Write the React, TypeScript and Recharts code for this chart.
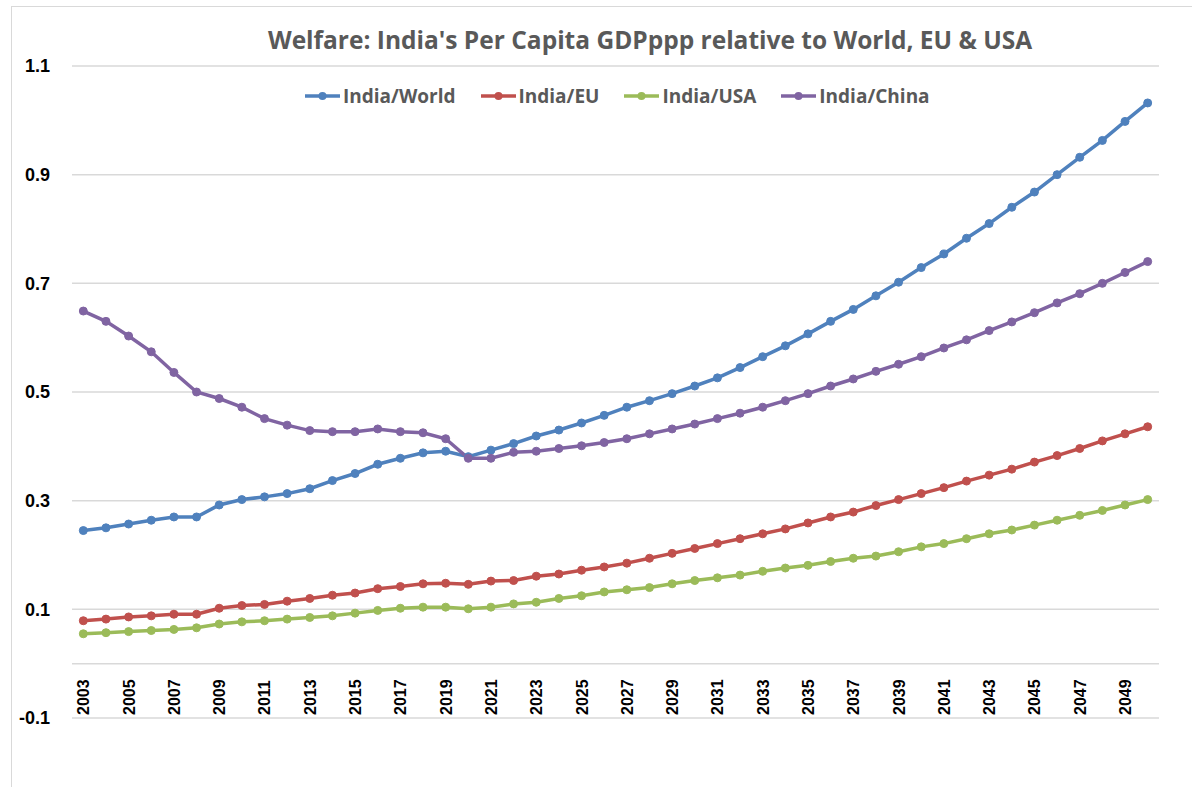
import React from "react";
import {
  LineChart,
  Line,
  XAxis,
  YAxis,
  CartesianGrid,
  ReferenceLine,
} from "recharts";

const years = [
  2003, 2004, 2005, 2006, 2007, 2008, 2009, 2010, 2011, 2012, 2013, 2014,
  2015, 2016, 2017, 2018, 2019, 2020, 2021, 2022, 2023, 2024, 2025, 2026,
  2027, 2028, 2029, 2030, 2031, 2032, 2033, 2034, 2035, 2036, 2037, 2038,
  2039, 2040, 2041, 2042, 2043, 2044, 2045, 2046, 2047, 2048, 2049, 2050,
];

const indiaWorld = [
  0.245, 0.25, 0.257, 0.264, 0.27, 0.27, 0.292, 0.302, 0.307, 0.313, 0.322,
  0.337, 0.35, 0.367, 0.378, 0.388, 0.391, 0.381, 0.393, 0.405, 0.419, 0.43,
  0.443, 0.457, 0.472, 0.484, 0.497, 0.511, 0.526, 0.545, 0.565, 0.585, 0.607,
  0.63, 0.652, 0.677, 0.702, 0.729, 0.754, 0.783, 0.81, 0.84, 0.868, 0.9,
  0.932, 0.963, 0.998, 1.032,
];

const indiaEU = [
  0.079, 0.082, 0.086, 0.088, 0.091, 0.091, 0.102, 0.107, 0.109, 0.115, 0.12,
  0.126, 0.13, 0.138, 0.142, 0.147, 0.148, 0.146, 0.152, 0.153, 0.161, 0.165,
  0.172, 0.178, 0.185, 0.194, 0.203, 0.212, 0.221, 0.23, 0.239, 0.248, 0.259,
  0.27, 0.279, 0.291, 0.302, 0.313, 0.324, 0.336, 0.347, 0.358, 0.371, 0.383,
  0.396, 0.41, 0.423, 0.436,
];

const indiaUSA = [
  0.055, 0.057, 0.059, 0.061, 0.063, 0.066, 0.073, 0.077, 0.079, 0.082, 0.085,
  0.088, 0.093, 0.098, 0.102, 0.104, 0.104, 0.101, 0.104, 0.11, 0.113, 0.12,
  0.125, 0.132, 0.136, 0.14, 0.147, 0.153, 0.158, 0.163, 0.17, 0.176, 0.181,
  0.188, 0.194, 0.198, 0.206, 0.215, 0.221, 0.23, 0.239, 0.246, 0.255, 0.264,
  0.273, 0.282, 0.292, 0.302,
];

const indiaChina = [
  0.649, 0.63, 0.603, 0.574, 0.536, 0.5, 0.488, 0.472, 0.451, 0.439, 0.429,
  0.427, 0.427, 0.432, 0.427, 0.425, 0.414, 0.378, 0.378, 0.389, 0.391, 0.396,
  0.401, 0.407, 0.414, 0.423, 0.432, 0.441, 0.451, 0.461, 0.472, 0.484, 0.497,
  0.511, 0.524, 0.538, 0.551, 0.565, 0.581, 0.596, 0.613, 0.629, 0.646, 0.664,
  0.681, 0.7, 0.72, 0.74,
];

const yTicks = [-0.1, 0.1, 0.3, 0.5, 0.7, 0.9, 1.1];

const series = [
  { key: "world", name: "India/World", color: "#4F81BD", values: indiaWorld },
  { key: "eu", name: "India/EU", color: "#C0504D", values: indiaEU },
  { key: "usa", name: "India/USA", color: "#9BBB59", values: indiaUSA },
  { key: "china", name: "India/China", color: "#8064A2", values: indiaChina },
];

const data = years.map((year, i) => {
  const row: Record<string, number | string> = { year: String(year) };
  series.forEach((s) => {
    row[s.key] = s.values[i];
  });
  return row;
});

const W = 1192;
const H = 787;
const MARGIN = { top: 66, right: 33, bottom: 68, left: 0 };
const X_AXIS_H = 1;
// bottom of plot area (the -0.1 gridline); year labels sit just above it
const PLOT_BOTTOM = H - MARGIN.bottom - X_AXIS_H;

const FONT = "'Liberation Sans', Arial, sans-serif";
const TITLE_FONT = "'Open Sans', 'Noto Sans', sans-serif";

function YearTick({ x, payload }: any) {
  const tx = x + 6;
  const ty = PLOT_BOTTOM - 3;
  return (
    <text
      x={tx}
      y={ty}
      transform={`rotate(-90, ${tx}, ${ty})`}
      textAnchor="start"
      fontFamily={FONT}
      fontWeight="bold"
      fontSize={16}
      fill="#000"
    >
      {payload.value}
    </text>
  );
}

function LegendRow() {
  return (
    <div
      style={{
        position: "absolute",
        left: 305,
        top: 83,
        display: "flex",
        alignItems: "center",
        whiteSpace: "nowrap",
        fontFamily: TITLE_FONT,
        fontWeight: 700,
        fontSize: 19,
        color: "#595959",
      }}
    >
      {series.map((s) => (
        <div
          key={s.key}
          style={{ display: "flex", alignItems: "center", marginRight: 25 }}
        >
          <svg width={35} height={12} style={{ marginRight: 3 }}>
            <line x1={0} y1={6} x2={35} y2={6} stroke={s.color} strokeWidth={3.5} />
            <circle cx={17.5} cy={6} r={4} fill={s.color} />
          </svg>
          <span>{s.name}</span>
        </div>
      ))}
    </div>
  );
}

export default function App() {
  return (
    <div
      style={{
        position: "absolute",
        left: 0,
        top: 0,
        width: W,
        height: H,
        background: "#fff",
        overflow: "hidden",
      }}
    >
      <div
        style={{
          position: "absolute",
          left: 11,
          top: 6,
          width: 1200,
          height: 800,
          borderLeft: "1px solid #d9d9d9",
          borderTop: "1px solid #d9d9d9",
        }}
      />
      <div
        style={{
          position: "absolute",
          left: 650,
          top: 23,
          transform: "translateX(-50%)",
          whiteSpace: "nowrap",
          fontFamily: TITLE_FONT,
          fontWeight: 700,
          fontSize: 24.5,
          color: "#595959",
        }}
      >
        Welfare: India's Per Capita GDPppp relative to World, EU &amp; USA
      </div>
      <div style={{ position: "absolute", left: 0, top: 0 }}>
        <LineChart width={W} height={H} data={data} margin={MARGIN}>
          <CartesianGrid horizontal vertical={false} stroke="#d9d9d9" strokeWidth={1.5} />
          <XAxis
            dataKey="year"
            scale="band"
            interval={1}
            height={X_AXIS_H}
            tickSize={0}
            tickMargin={0}
            axisLine={false}
            tickLine={false}
            tick={<YearTick />}
          />
          <YAxis
            width={72}
            domain={[-0.1, 1.1]}
            ticks={yTicks}
            axisLine={false}
            tickLine={false}
            tickSize={0}
            tickMargin={22}
            tick={{ fontFamily: FONT, fontWeight: "bold", fontSize: 18, fill: "#000" }}
          />
          <ReferenceLine y={0} stroke="#d9d9d9" strokeWidth={1.5} />
          {series.map((s) => (
            <Line
              key={s.key}
              type="linear"
              dataKey={s.key}
              name={s.name}
              stroke={s.color}
              strokeWidth={3.5}
              dot={{ r: 4, fill: s.color, stroke: s.color, strokeWidth: 1 }}
              isAnimationActive={false}
            />
          ))}
        </LineChart>
      </div>
      <LegendRow />
    </div>
  );
}
